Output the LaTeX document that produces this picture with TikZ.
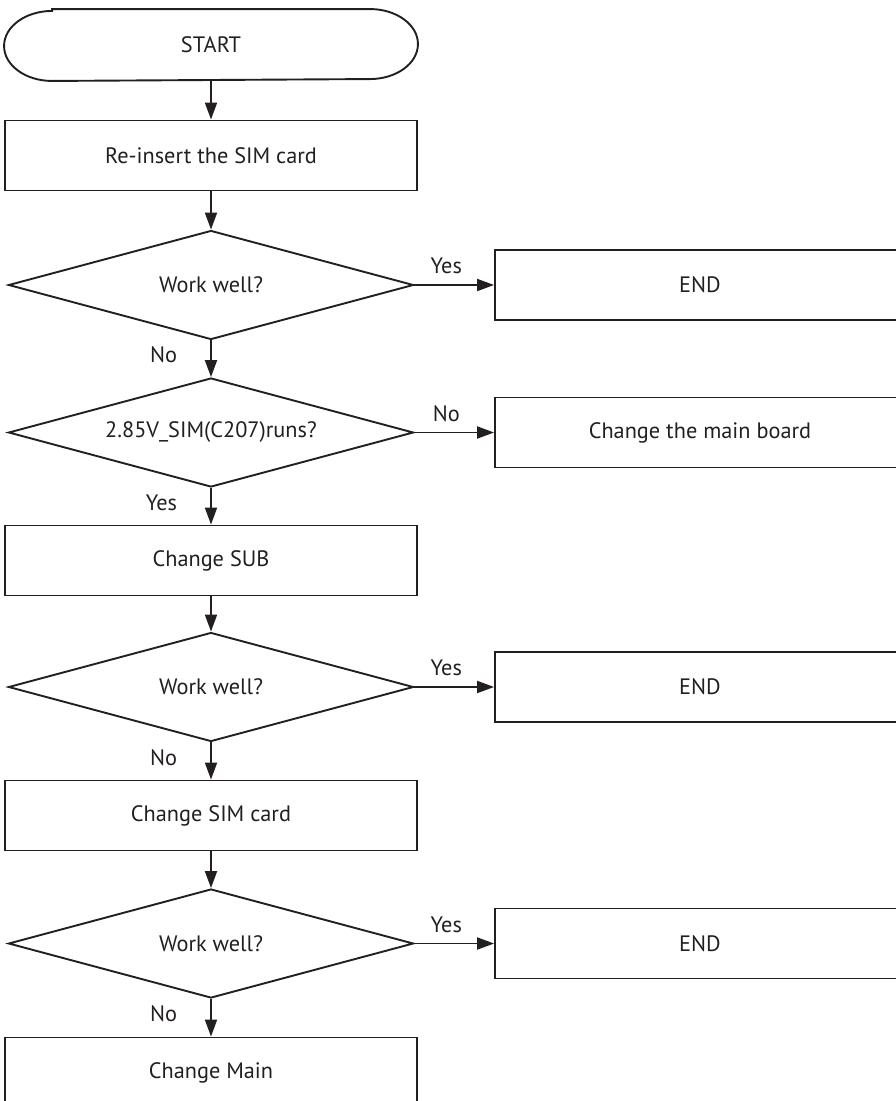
\documentclass[tikz,border=0pt]{standalone}
\usepackage{fontspec}
\setmainfont{PT Sans}
\usetikzlibrary{arrows.meta,shapes.geometric}
\definecolor{ink}{HTML}{231F20}

\begin{document}
\begin{tikzpicture}[x=1pt,y=-1pt,
        font=\fontsize{22.3}{26}\selectfont,color=ink,line width=1.9pt,
        flow/.style={-{Triangle[length=17pt,width=12pt]}},
        procbox/.style={draw,rectangle,inner sep=0pt,minimum width=412pt,minimum height=70pt},
        endbox/.style={draw,rectangle,inner sep=0pt,minimum width=410pt,minimum height=70pt},
        decision/.style={draw,diamond,aspect=3.7,inner sep=0pt,minimum width=405pt,minimum height=109pt},
        answer/.style={inner sep=2pt}]
    \useasboundingbox (0,0) rectangle (896,1101);
    \clip (0,0) rectangle (896,1101);

    \node[minimum width=412pt,minimum height=70pt] (start) at (211,45) {START};
    \draw ([xshift=48pt]start.north west) -- ([xshift=-48pt]start.north east)
        arc[start angle=90,end angle=-90,x radius=48pt,y radius=35pt]
        -- ([xshift=48pt]start.south west)
        arc[start angle=270,end angle=90,x radius=48pt,y radius=35pt] -- cycle;

    \node[procbox] (reinsert) at (211,155.5) {Re-insert the SIM card};
    \node[decision] (ok1) at (211,285) {Work well?};
    \node[endbox] (end1) at (700,285) {END};
    \node[decision] (simv) at (211,432.5) {2.85V\_SIM(C207)runs?};
    \node[endbox] (board) at (700,432.5) {Change the main board};
    \node[procbox] (sub) at (211,560.5) {Change SUB};
    \node[decision] (ok2) at (211,687) {Work well?};
    \node[endbox] (end2) at (700,687) {END};
    \node[procbox] (simcard) at (211,815.5) {Change SIM card};
    \node[decision] (ok3) at (211,943.5) {Work well?};
    \node[endbox] (end3) at (700,943.5) {END};
    \node[procbox] (mainbd) at (211,1072.5) {Change Main};

    \draw[flow] (start.south) -- (reinsert.north);
    \draw[flow] (reinsert.south) -- (ok1.north);
    \draw[flow] (ok1.east) -- node[answer,pos=0.4,above=8pt] {Yes} (end1.west);
    \draw[flow] (ok1.south) -- node[answer,pos=0.4,left=31pt] {No} (simv.north);
    \draw[flow] (simv.east) -- node[answer,pos=0.4,above=8pt] {No} (board.west);
    \draw[flow] (simv.south) -- node[answer,pos=0.4,left=31pt] {Yes} (sub.north);
    \draw[flow] (sub.south) -- (ok2.north);
    \draw[flow] (ok2.east) -- node[answer,pos=0.4,above=8pt] {Yes} (end2.west);
    \draw[flow] (ok2.south) -- node[answer,pos=0.4,left=31pt] {No} (simcard.north);
    \draw[flow] (simcard.south) -- (ok3.north);
    \draw[flow] (ok3.east) -- node[answer,pos=0.4,above=8pt] {Yes} (end3.west);
    \draw[flow] (ok3.south) -- node[answer,pos=0.4,left=31pt] {No} (mainbd.north);
\end{tikzpicture}
\end{document}
